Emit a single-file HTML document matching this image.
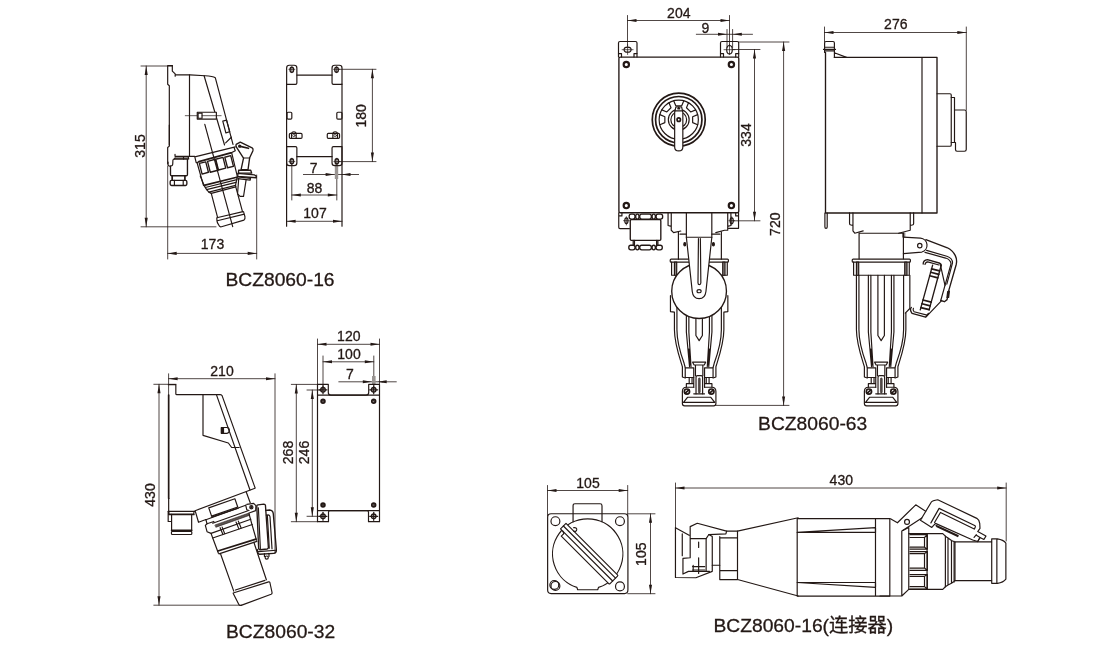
<!DOCTYPE html>
<html><head><meta charset="utf-8"><title>BCZ8060</title>
<style>
html,body{margin:0;padding:0;background:#fff;}
body{width:1120px;height:660px;overflow:hidden;}
svg{display:block;will-change:transform;transform:translateZ(0)}
svg path,svg circle,svg rect,svg ellipse,svg line{fill:none;stroke:#231815;stroke-width:1.18;vector-effect:non-scaling-stroke;stroke-linejoin:round;stroke-linecap:round}
svg .d{stroke-width:.8}
svg .t{stroke-width:.7}
svg .k{stroke-width:1.7}
svg .kk{stroke-width:2.2}
svg .m{stroke-width:1.35}
svg .g{fill:#8a8481}
svg .g2{fill:#5a5350;stroke-width:.6}
svg .ar{fill:#231815;stroke:none}
svg .f{fill:#231815}
svg .w{fill:#fff}
svg text{font-family:"Liberation Sans","Noto Sans CJK SC",sans-serif;fill:#231815;stroke:#231815;stroke-width:.3px}
</style></head><body>
<svg width="1120" height="660" viewBox="0 0 1120 660">
<g id="d1"><path d="M141 66 L172.3 66" class="d"/>
<path d="M141 226.8 L216 226.8" class="d"/>
<path d="M146.2 66 L146.2 226.8" class="d"/><path class="ar" d="M146.2 66 L147.75 75 L144.65 75 Z"/><path class="ar" d="M146.2 226.8 L144.65 217.8 L147.75 217.8 Z"/><text x="144.7" y="146" font-size="14" text-anchor="middle" transform="rotate(-90 144.7 146)">315</text>
<path d="M167.7 166 L167.7 259" class="d"/>
<path d="M256.7 175 L256.7 259" class="d"/>
<path d="M167.7 253.4 L256.7 253.4" class="d"/><path class="ar" d="M167.7 253.4 L176.7 251.85 L176.7 254.95 Z"/><path class="ar" d="M256.7 253.4 L247.7 254.95 L247.7 251.85 Z"/><text x="212.5" y="249" font-size="14" text-anchor="middle">173</text>
<text x="280" y="286" font-size="19.25" text-anchor="middle">BCZ8060-16</text>
<path d="M338 69.3 L376 69.3" class="d"/>
<path d="M338 161.6 L376 161.6" class="d"/>
<path d="M372.4 69.3 L372.4 161.6" class="d"/><path class="ar" d="M372.4 69.3 L373.95 78.3 L370.85 78.3 Z"/><path class="ar" d="M372.4 161.6 L370.85 152.6 L373.95 152.6 Z"/><text x="365.9" y="115.8" font-size="14" text-anchor="middle" transform="rotate(-90 365.9 115.8)">180</text>
<path d="M303.4 174.5 L358.6 174.5" class="d"/>
<path class="ar" d="M334.6 174.5 L325.6 176.05 L325.6 172.95 Z"/>
<path class="ar" d="M341.5 174.5 L350.5 172.95 L350.5 176.05 Z"/>
<text x="313.6" y="172.8" font-size="14" text-anchor="middle">7</text>
<path d="M291.8 163 L291.8 200" class="d"/>
<path d="M336.8 163 L336.8 200" class="d"/>
<path d="M291.8 195 L336.8 195" class="d"/><path class="ar" d="M291.8 195 L300.8 193.45 L300.8 196.55 Z"/><path class="ar" d="M336.8 195 L327.8 196.55 L327.8 193.45 Z"/><text x="314.6" y="192.5" font-size="14" text-anchor="middle">88</text>
<path d="M286.6 84 L286.6 226.2"/>
<path d="M342 84 L342 226.2"/>
<path d="M286.6 221.3 L342 221.3" class="d"/><path class="ar" d="M286.6 221.3 L295.6 219.75 L295.6 222.85 Z"/><path class="ar" d="M342 221.3 L333 222.85 L333 219.75 Z"/><text x="315" y="218.1" font-size="14" text-anchor="middle">107</text>
<rect x="334.8" y="163" width="3.4" height="16" style="fill:#9a9592;stroke:none"/>
<g transform="translate(270 55) scale(0.136364)"><path d="M122 215 V95 Q122 75 142 75 H177 Q197 75 197 95 V205 Q197 215 187 215 H122"/><path d="M528 215 V95 Q528 75 508 75 H475 Q455 75 455 95 V205 Q455 215 465 215 H528"/><path d="M197 147 L455 147"/><ellipse cx="160" cy="108" rx="13" ry="19" class="m"/><path d="M160 85 L160 130" class="t"/><path d="M138 105 L182 105" class="t"/><ellipse cx="488" cy="108" rx="13" ry="19" class="m"/><path d="M488 85 L488 130" class="t"/><path d="M466 105 L510 105" class="t"/><rect x="125" y="420" width="35" height="50" rx="8"/><rect x="490" y="420" width="38" height="50" rx="8"/><rect x="142" y="575" width="93" height="37" rx="8"/><path d="M158 612 V582 Q158 563 175 563 Q192 563 192 582 V612"/><circle cx="175" cy="590" r="9" class="t"/><rect x="420" y="575" width="90" height="37" rx="8"/><path d="M461 612 V582 Q461 563 478 563 Q495 563 495 582 V612"/><circle cx="478" cy="590" r="9" class="t"/></g>
<g transform="translate(270 120) scale(0.136364)"><path d="M122 195 H187 Q197 195 197 205 V315 Q197 335 177 335 H142 Q122 335 122 315 V195"/><path d="M528 195 H465 Q455 195 455 205 V315 Q455 335 475 335 H508 Q528 335 528 315 V195"/><path d="M197 268 L455 268"/><ellipse cx="160" cy="303" rx="13" ry="19" class="m"/><path d="M160 280 L160 326" class="t"/><path d="M138 305 L182 305" class="t"/><ellipse cx="490" cy="303" rx="13" ry="19" class="m"/><path d="M490 280 L490 326" class="t"/><path d="M468 305 L512 305" class="t"/></g>
<g transform="translate(155 55) scale(0.136364)"><path d="M127 78 H93 V215 L105 225 V660"/><path d="M127 78 V118 L148 138 V156 M150 146 H257 L367 152 Q425 156 442 166 L572 655"/><path d="M253 146 L253 744"/><path d="M360 152 L510 660"/><path d="M222 445 L485 445" class="t"/><rect x="310" y="420" width="140" height="50" class="w"/><rect x="316" y="426" width="29" height="38"/><path d="M345 445 L450 445" class="t"/><path d="M497 485 L525 478 L548 562 L520 572 Z"/><path d="M518 645 L560 603"/></g>
<g transform="translate(155 125) scale(0.136364)"><path d="M105 0 V155 L93 165 V285"/></g>
<g transform="translate(162 150) scale(0.060606)"><path d="M100 200 V240 Q102 268 132 265 L162 257 Q176 252 177 236 L180 170 Q182 150 205 146 L215 132"/><path d="M215 70 V105 H540 M215 133 H440 M355 105 V150 M432 105 L440 150"/><path d="M140 272 V405 Q140 425 160 425 H400 Q420 425 420 405 V150 M205 150 H420" class="m"/><path d="M168 428 V497 M378 428 V497" class="k"/><rect x="135" y="500" width="275" height="85" rx="22" class="m"/><path d="M205 500 V585 M350 500 V585"/></g>
<g transform="translate(188 140) scale(0.090909)"><path d="M75 185 L520 75 M75 185 L90 250 L120 240 M505 80 L520 118 L470 142"/><path d="M120 238 L470 142" class="k"/><path d="M125 258 L195 240 L225 355 L155 375 Z" class="m"/><path d="M215 235 L300 212 L330 333 L245 355 Z" class="m"/><path d="M305 212 L385 192 L415 310 L335 330 Z" class="m"/><path d="M405 190 L470 172 L500 290 L435 305 Z" class="m"/><path d="M100 250 L170 500 M480 140 L545 410"/></g>
<g transform="translate(196 176) scale(0.084846)"><path d="M95 110 L480 15" class="k"/><path d="M110 135 L482 43 M125 160 L472 75 M152 190 L466 110"/><path d="M50 0 L95 110 L125 160 L152 190 L180 205 M480 15 L482 43 L472 75 L466 110 L470 125"/><path d="M180 205 L255 490 M468 125 L548 420 M180 205 L468 128"/><path d="M245 492 L553 420 Q560 418 562 426 L577 480 Q582 505 565 520 L300 598 Q282 603 275 590 L252 550 Q245 530 245 492 Z M250 527 L570 450"/></g>
<path d="M204.8 124.3 L232.7 226.7"/>
<g transform="translate(228 138) scale(0.081733)"><path d="M100 78 L150 50 L295 120 Q312 132 305 155 L265 242 L245 388 H160 L190 245 L105 115 Q92 95 100 78 Z" class="m"/><circle cx="143" cy="100" r="13" class="f"/><path d="M150 102 L250 126" class="k"/><path d="M190 245 H265"/><path d="M130 395 H278 L290 430 H128 Z" class="w m"/><path d="M120 432 L325 452 L346 466 V486 L120 470 Z" class="w m"/><path d="M122 476 L275 494 L270 516 L120 497" class="m"/><path d="M131 498 L117 683 L148 714 H190 L221 516"/></g></g>
<g id="d2"><path d="M168.6 373.8 L168.6 396" class="d"/>
<path d="M275 373.8 L275 552" class="d"/>
<path d="M168.6 378.7 L275 378.7" class="d"/><path class="ar" d="M168.6 378.7 L177.6 377.15 L177.6 380.25 Z"/><path class="ar" d="M275 378.7 L266 380.25 L266 377.15 Z"/><text x="222" y="375.6" font-size="14" text-anchor="middle">210</text>
<path d="M153.8 384.3 L176 384.3" class="d"/>
<path d="M153.8 605.2 L241.5 605.2" class="d"/>
<path d="M159 384.3 L159 605.2" class="d"/><path class="ar" d="M159 384.3 L160.55 393.3 L157.45 393.3 Z"/><path class="ar" d="M159 605.2 L157.45 596.2 L160.55 596.2 Z"/><text x="154.7" y="495" font-size="14" text-anchor="middle" transform="rotate(-90 154.7 495)">430</text>
<text x="280.6" y="637.5" font-size="19.25" text-anchor="middle">BCZ8060-32</text>
<path d="M317.5 339 L317.5 384.4" class="d"/>
<path d="M379.5 339 L379.5 384.4" class="d"/>
<path d="M317.5 344.3 L379.5 344.3" class="d"/><path class="ar" d="M317.5 344.3 L326.5 342.75 L326.5 345.85 Z"/><path class="ar" d="M379.5 344.3 L370.5 345.85 L370.5 342.75 Z"/><text x="348.8" y="341.1" font-size="14" text-anchor="middle">120</text>
<path d="M323 356 L323 389" class="d"/>
<path d="M373.8 356 L373.8 389" class="d"/>
<path d="M323 361.8 L373.8 361.8" class="d"/><path class="ar" d="M323 361.8 L332 360.25 L332 363.35 Z"/><path class="ar" d="M373.8 361.8 L364.8 363.35 L364.8 360.25 Z"/><text x="349" y="358.8" font-size="14" text-anchor="middle">100</text>
<path d="M338.8 381.8 L396.3 381.8" class="d"/>
<path class="ar" d="M371.8 381.8 L362.8 383.35 L362.8 380.25 Z"/>
<path class="ar" d="M377.7 381.8 L386.7 380.25 L386.7 383.35 Z"/>
<text x="350" y="379.4" font-size="14" text-anchor="middle">7</text>
<rect x="372" y="376" width="3.6" height="9" style="fill:#9a9592;stroke:none"/>
<path d="M291.3 384.4 L317.5 384.4" class="d"/>
<path d="M291.3 521.7 L317.5 521.7" class="d"/>
<path d="M296.3 384.4 L296.3 521.7" class="d"/><path class="ar" d="M296.3 384.4 L297.85 393.4 L294.75 393.4 Z"/><path class="ar" d="M296.3 521.7 L294.75 512.7 L297.85 512.7 Z"/><text x="292.5" y="452.5" font-size="14" text-anchor="middle" transform="rotate(-90 292.5 452.5)">268</text>
<path d="M307 390 L323 390" class="d"/>
<path d="M307 516.3 L323 516.3" class="d"/>
<path d="M312.3 390 L312.3 516.3" class="d"/><path class="ar" d="M312.3 390 L313.85 399 L310.75 399 Z"/><path class="ar" d="M312.3 516.3 L310.75 507.3 L313.85 507.3 Z"/><text x="308.8" y="452.5" font-size="14" text-anchor="middle" transform="rotate(-90 308.8 452.5)">246</text>
<path d="M328.3 384.4 H317.5 V521.7 H328.5 V512 Q328.5 510.6 330 510.6 H367 Q368.5 510.6 368.5 512 V521.7 H379.5 V384.4 H368.7 V392.5 Q368.7 395.2 366 395.2 H331 Q328.3 395.2 328.3 392.5 Z"/>
<path d="M317.5 395.2 L379.5 395.2"/>
<path d="M317.5 510.6 L379.5 510.6"/>
<circle cx="323" cy="389.8" r="2.3" class="m"/>
<path d="M323 385.8 L323 393.8"/>
<path d="M319 389.8 L327 389.8"/>
<circle cx="323" cy="516.3" r="2.3" class="m"/>
<path d="M323 512.3 L323 520.3"/>
<path d="M319 516.3 L327 516.3"/>
<circle cx="323" cy="401.3" r="1.9" class="k"/>
<circle cx="323" cy="401.3" r="0.4" class="k"/>
<circle cx="323" cy="505" r="1.9" class="k"/>
<circle cx="323" cy="505" r="0.4" class="k"/>
<circle cx="373.7" cy="389.8" r="2.3" class="m"/>
<path d="M373.7 385.8 L373.7 393.8"/>
<path d="M369.7 389.8 L377.7 389.8"/>
<circle cx="373.7" cy="516.3" r="2.3" class="m"/>
<path d="M373.7 512.3 L373.7 520.3"/>
<path d="M369.7 516.3 L377.7 516.3"/>
<circle cx="373.7" cy="401.3" r="1.9" class="k"/>
<circle cx="373.7" cy="401.3" r="0.4" class="k"/>
<circle cx="373.7" cy="505" r="1.9" class="k"/>
<circle cx="373.7" cy="505" r="0.4" class="k"/>
<g transform="translate(150 375) scale(0.166667)"><path d="M110 58 H155 V112 Q155 118 161 118 H422 Q430 118 433 125 L630 676"/><path d="M112 120 V740" class="k"/><path d="M112 740 V815"/><path d="M318 120 V362 L470 408 L490 435 H535"/><path d="M400 122 L600 690"/><path d="M428 315 H462 Q476 316 476 332 Q476 349 462 350 H428 Z"/><path d="M429 316 H441 V349 H429 Z" class="f"/></g>
<g transform="translate(190 480) scale(0.113636)"><path d="M572 72 L45 270 L75 372 L140 348"/><path d="M495 105 L530 200"/><path d="M165 245 L395 165 L420 238 L190 318 Z"/><path d="M188 327 L425 247"/><path d="M140 348 L150 385 L135 400 L150 455 L185 470 L200 510 L250 645"/><path d="M140 350 L490 222"/><path d="M150 385 L210 365 M200 380 L510 270"/><path d="M222 395 L520 290 L526 310 L230 415 Z" class="g2"/><path d="M265 420 L290 480 M283 415 L305 472 M405 370 L430 430 M425 362 L450 422"/><path d="M185 470 L535 345 M200 510 L548 392"/><path d="M520 300 L545 390 L585 530"/><path d="M245 625 L580 520" class="k"/><path d="M255 650 L588 540"/><circle cx="540" cy="240" r="14"/><circle cx="540" cy="240" r="6"/><path d="M490 222 L500 262 L520 268 M500 215 L560 205 L580 225 L578 270 L520 290"/></g>
<g transform="translate(240 495) scale(0.090909)"><path d="M185 125 Q183 110 198 108 L262 100 Q278 100 280 115 L312 575 Q313 592 298 594 L222 602 Q207 603 205 588 Z" class="m"/><path d="M202 140 L224 588"/><path d="M283 170 L325 165 Q362 168 366 205 L400 600 Q402 640 372 642 L215 652 Q200 650 196 630 L190 600" class="m"/><path d="M290 222 L312 219 Q328 220 330 240 L352 592 M301 228 L322 585"/><path d="M203 622 L398 608"/></g>
<g transform="translate(190 540) scale(0.113636)"><path d="M270 125 L385 450 M562 20 L672 350"/><path d="M400 440 L660 355"/><path d="M380 466 L692 368 Q700 366 703 374 L722 462 Q724 474 714 478 L450 575 Q436 580 430 568 L384 478 Q380 470 380 466 Z"/><circle cx="675" cy="155" r="14"/><path d="M655 120 V145 M695 118 V145"/></g>
<g transform="translate(150 495) scale(0.075758)"><path d="M240 215 H592"/><path d="M240 215 V350 H272 M250 215 V255 M582 215 L576 255"/><path d="M250 256 H578" class="k"/><path d="M285 256 V465 M550 256 V465"/><path d="M285 466 H550" class="k"/><rect x="283" y="481" width="269" height="40" rx="12"/></g></g>
<g id="d3"><path d="M627.5 15.5 L627.5 46" class="d"/>
<path d="M729.5 15.5 L729.5 46" class="d"/>
<path d="M627.5 20.5 L729.5 20.5" class="d"/><path class="ar" d="M627.5 20.5 L636.5 18.95 L636.5 22.05 Z"/><path class="ar" d="M729.5 20.5 L720.5 22.05 L720.5 18.95 Z"/><text x="678.8" y="17.6" font-size="14" text-anchor="middle">204</text>
<path d="M696.3 34.3 L752.5 34.3" class="d"/>
<path class="ar" d="M727 34.3 L718 35.85 L718 32.75 Z"/>
<path class="ar" d="M732.8 34.3 L741.8 32.75 L741.8 35.85 Z"/>
<path d="M727 29.5 L727 47.5" class="d"/>
<path d="M732.6 29.5 L732.6 47.5" class="d"/>
<text x="705.5" y="32.6" font-size="14" text-anchor="middle">9</text>
<path d="M733 49.5 L760 49.5" class="d"/>
<path d="M733 220.8 L760 220.8" class="d"/>
<path d="M754.5 49.5 L754.5 220.8" class="d"/><path class="ar" d="M754.5 49.5 L756.05 58.5 L752.95 58.5 Z"/><path class="ar" d="M754.5 220.8 L752.95 211.8 L756.05 211.8 Z"/><text x="751" y="135" font-size="14" text-anchor="middle" transform="rotate(-90 751 135)">334</text>
<path d="M738.8 42 L789 42" class="d"/>
<path d="M716 405.4 L789 405.4" class="d"/>
<path d="M783.6 42 L783.6 405.4" class="d"/><path class="ar" d="M783.6 42 L785.15 51 L782.05 51 Z"/><path class="ar" d="M783.6 405.4 L782.05 396.4 L785.15 396.4 Z"/><text x="780" y="224.2" font-size="14" text-anchor="middle" transform="rotate(-90 780 224.2)">720</text>
<text x="812.7" y="429.8" font-size="19.25" text-anchor="middle">BCZ8060-63</text>
<rect x="618.9" y="57.1" width="119.9" height="155.6" rx="1.5" class="m"/>
<circle cx="626.3" cy="64.5" r="2.65" class="kk"/>
<circle cx="626.3" cy="205.6" r="2.65" class="kk"/>
<circle cx="731.4" cy="64.5" r="2.65" class="kk"/>
<circle cx="731.4" cy="205.6" r="2.65" class="kk"/>
<path d="M618.5 57 V43 Q618.5 41.5 620.0 41.5 H635.5 Q637 41.5 637 43 V57"/><path d="M618.5 53.6 H621.5 V57 M637 53.6 H634 V57"/><ellipse cx="627.6" cy="49.7" rx="3.5" ry="2.5"/><path d="M622.1 49.7 L633.1 49.7" class="t"/><path d="M627.6 44.5 L627.6 54.5" class="t"/>
<path d="M720.5 57 V43 Q720.5 41.5 722.0 41.5 H737.2 Q738.7 41.5 738.7 43 V57"/><path d="M720.5 53.6 H723.5 V57 M738.7 53.6 H735.7 V57"/><ellipse cx="729.5" cy="49.7" rx="2.8" ry="4.2"/><path d="M724 49.7 L735 49.7" class="t"/><path d="M729.5 44.5 L729.5 54.5" class="t"/>
<g transform="translate(645 85) scale(0.113636)"><circle cx="297" cy="305" r="233" class="k"/><circle cx="297" cy="305" r="204" class="k"/><circle cx="297" cy="305" r="172.5"/><circle cx="297" cy="305" r="91.5"/><circle cx="297" cy="305" r="69.5"/><g transform="translate(297 305) rotate(180)"><path d="M166.139 -44.5169 L122.268 -25.989 L122.268 25.989 L166.139 44.5169"/></g><g transform="translate(297 305) rotate(225)"><path d="M166.139 -44.5169 L122.268 -25.989 L122.268 25.989 L166.139 44.5169"/></g><g transform="translate(297 305) rotate(270)"><path d="M166.139 -44.5169 L122.268 -25.989 L122.268 25.989 L166.139 44.5169"/></g><g transform="translate(297 305) rotate(315)"><path d="M166.139 -44.5169 L122.268 -25.989 L122.268 25.989 L166.139 44.5169"/></g><g transform="translate(297 305) rotate(0)"><path d="M166.139 -44.5169 L122.268 -25.989 L122.268 25.989 L166.139 44.5169"/></g><path d="M261 240 L272 192 H322 L333 240 V545 Q333 580 297 580 Q261 580 261 545 Z" class="w"/><path d="M261 228 H333"/><circle cx="297" cy="305" r="15" class="k"/><path d="M288 210 L297 196 L306 210 Z" class="f"/></g>
<g transform="translate(615 208) scale(0.072727)"><rect x="195" y="84" width="80" height="68" rx="28" class="m"/><rect x="285" y="84" width="45" height="68" rx="28" class="m"/><rect x="340" y="84" width="160" height="68" rx="28" class="m"/><rect x="510" y="84" width="45" height="68" rx="28" class="m"/><rect x="565" y="84" width="90" height="68" rx="28" class="m"/><rect x="210" y="160" width="420" height="285" rx="14" class="m"/><path d="M250 445 V512 M590 445 V512 M268 445 V512 M572 445 V512"/><rect x="190" y="512" width="85" height="63" rx="28" class="m"/><rect x="285" y="512" width="45" height="63" rx="28" class="m"/><rect x="340" y="512" width="160" height="63" rx="28" class="m"/><rect x="510" y="512" width="45" height="63" rx="28" class="m"/><rect x="565" y="512" width="85" height="63" rx="28" class="m"/></g>
<g transform="translate(650 315) scale(0.113636)"><rect x="178" y="-491" width="512" height="25" rx="8"/><path d="M190 -466 V-350 H680 V-466"/><path d="M215 -466 V-350 H235 V-466 Z M640 -466 V-350 H660 V-466 Z" class="g"/><path d="M180 -170 V-30 L215 -25 V130 C215 250 262 380 285 455 V545 L310 555 M237 -350 V130 C237 250 280 370 300 425 L310 462"/><path d="M685 -170 V-30 L650 -25 V130 C650 250 603 380 580 455 V545 L555 555 M628 -350 V130 C628 250 585 370 565 425 L555 462"/><path d="M320 -350 V150 L348 455 M342 -350 V150 L361 455 M342 300 L352 440"/><path d="M545 -350 V150 L517 455 M523 -350 V150 L504 455 M523 300 L513 440"/><path d="M404 -350 V180 L432.5 226 L461 180 V-350"/><path d="M375 415 H490 M375 415 L388 440 H477 L490 415 M400 440 V535 M465 440 V535"/><rect x="310" y="465" width="75" height="85"/><rect x="480" y="465" width="75" height="85"/><path d="M345 555 V604 M370 555 V604 M495 555 V604 M520 555 V604 M320 604 H385 M480 604 H545 M320 604 V636 M545 604 V636 M385 550 V636 M480 550 V636"/><path d="M405 694 V549 Q405 534 418 534 H450 Q463 534 463 549 V694"/><path d="M426 562 Q426 554 434 554 Q442 554 442 562 V678 Q442 686 434 686 Q426 686 426 678 Z" class="g2"/><path d="M385 636 H320 Q285 636 285 674 V779 Q285 799 305 799 H560 Q580 799 580 779 V674 Q580 636 545 636 H480"/><circle cx="325" cy="674" r="23" class="k"/><circle cx="540" cy="674" r="23" class="k"/><path d="M308 689 L342 659 M523 689 L557 659" class="k"/><path d="M330 724 H535 L570 769 H295 Z M385 694 H480"/></g>
<g transform="translate(610 200) scale(0.159091)"><path d="M55 80 V172 Q55 180 63 180 H122 M55 100 H75 V82"/><ellipse cx="103" cy="130" rx="10" ry="18"/><path d="M85 130 L121 130" class="t"/><path d="M103 105 L103 157" class="t"/><path d="M808 80 V178 H745 M808 100 H790 V82"/><ellipse cx="765" cy="130" rx="10" ry="18"/><path d="M747 130 L783 130" class="t"/><path d="M765 105 L765 157" class="t"/><path d="M365 82 V160 L385 166 V190 L400 205 L445 195 M385 82 V166 M480 82 V234 M640 82 V234 M740 82 V166 M760 82 V160 L740 166 V190 L720 190 L665 205"/><path d="M430 200 V372 M700 200 V372 M440 215 H480 M640 215 H690"/><circle cx="560" cy="573" r="172" class="w m"/><path d="M480 234 H640 L603 575 Q598 620 560 620 Q522 620 517 575 Z" class="w"/><path d="M556 242 L553 520 Q553 532 562 532 Q571 532 571 520 L568 242"/><ellipse cx="560" cy="573" rx="13" ry="10"/><ellipse cx="470" cy="278" rx="6" ry="11" class="f"/><ellipse cx="650" cy="278" rx="6" ry="11" class="f"/></g>
<path d="M824.5 27 L824.5 42" class="d"/>
<path d="M966.3 27 L966.3 110" class="d"/>
<path d="M824.5 32.5 L966.3 32.5" class="d"/><path class="ar" d="M824.5 32.5 L833.5 30.95 L833.5 34.05 Z"/><path class="ar" d="M966.3 32.5 L957.3 34.05 L957.3 30.95 Z"/><text x="895.8" y="28.6" font-size="14" text-anchor="middle">276</text>
<path d="M834.4 57.4 H937 V213 H825.5 V52.4" class="m"/>
<path d="M922 57.5 L922 213"/>
<path d="M824.9 213 V227 Q824.9 228.4 826 228.4 Q827.2 228.4 827.2 227 V213"/>
<g transform="translate(800 0) scale(0.250000)"><path d="M98.4 210 V172 Q98.4 166 104 166 H132 Q137.6 166 137.6 172 V229.6 M137.6 211 L186 229.6 M98.4 189 H137.6 M94 197.6 H142 M98.4 203.6 H137.6"/><path d="M548 375 H600 Q605 375 605 380 V580 Q605 585 600 585 H548"/><path d="M605 390 H618 V570 H605"/><path d="M618 440 H658 Q665 440 665 447 V598 Q665 605 658 605 H628 Q622 605 622 598 V570 H618"/></g>
<g transform="translate(840 205) scale(0.136364)"><path d="M70 58 V135 Q70 145 80 147 L95 150 M95 58 V190 L108 207 L170 190 M540 58 V135 Q540 145 530 147 L515 150 M515 58 V185 L430 207"/><path d="M140 205 V395 M465 205 V395 M140 207 H465"/><path d="M460 207 V235 M475 205 V235" class="t"/><path d="M465 235 L590 243 A52 52 0 0 1 600 345 L465 357"/><circle cx="585" cy="298" r="16"/></g>
<g transform="translate(905 232) scale(0.121212)"><path d="M172 63 L350 130 Q395 152 415 195 Q432 230 422 270 L362 480 L347 558 L325 575 L295 565" class="m"/><path d="M165 168 L335 215 Q375 228 380 262 L330 440 L295 565"/><path d="M178 152 L345 200 Q392 215 392 255 L345 430"/><path d="M290 262 L330 440"/><path d="M150 265 Q150 232 185 228 L288 258 Q302 264 300 280" class="m"/><path d="M165 268 Q168 248 188 246 L280 272"/><path d="M228 273 L126 642 M296 285 L199 642" class="m"/><path d="M219 304 L286 321 M212 332 L279 349 M204 361 L271 378 M148 561 L216 578 M140 592 L208 609 M131 624 L199 641" class="k"/><path d="M176 698 L300 568"/><path d="M352 492 L366 488 L360 540 L346 540 Z" class="f"/></g>
<g transform="translate(895 230) scale(0.136286)"><path d="M120 568 Q105 585 125 612 L225 640 L245 612" class="m"/><path d="M135 575 Q128 590 140 600 L235 625"/></g>
<g transform="translate(832 315) scale(0.113636)"><rect x="178" y="-491" width="512" height="25" rx="8"/><path d="M190 -466 V-350 H680 V-466"/><path d="M215 -466 V-350 H235 V-466 Z M640 -466 V-350 H660 V-466 Z" class="g"/><path d="M215 -350 V130 C215 250 262 380 285 455 V545 L310 555 M237 -350 V130 C237 250 280 370 300 425 L310 462"/><path d="M650 -17 V130 C650 250 603 380 580 455 V545 L555 555 M630 -350 V130 C630 250 585 370 565 425 L555 462"/><path d="M685 -350 V-57 L645 -17"/><path d="M320 -350 V150 L348 455 M342 -350 V150 L361 455 M342 300 L352 440"/><path d="M545 -350 V150 L517 455 M523 -350 V150 L504 455 M523 300 L513 440"/><path d="M404 -350 V180 L432.5 226 L461 180 V-350"/><path d="M375 415 H490 M375 415 L388 440 H477 L490 415 M400 440 V535 M465 440 V535"/><rect x="310" y="465" width="75" height="85"/><rect x="480" y="465" width="75" height="85"/><path d="M345 555 V604 M370 555 V604 M495 555 V604 M520 555 V604 M320 604 H385 M480 604 H545 M320 604 V636 M545 604 V636 M385 550 V636 M480 550 V636"/><path d="M405 694 V549 Q405 534 418 534 H450 Q463 534 463 549 V694"/><path d="M426 562 Q426 554 434 554 Q442 554 442 562 V678 Q442 686 434 686 Q426 686 426 678 Z" class="g2"/><path d="M385 636 H320 Q285 636 285 674 V779 Q285 799 305 799 H560 Q580 799 580 779 V674 Q580 636 545 636 H480"/><circle cx="325" cy="674" r="23" class="k"/><circle cx="540" cy="674" r="23" class="k"/><path d="M308 689 L342 659 M523 689 L557 659" class="k"/><path d="M330 724 H535 L570 769 H295 Z M385 694 H480"/></g></g>
<g id="d4"><path d="M547.5 485.5 L547.5 516" class="d"/>
<path d="M627.7 485.5 L627.7 516" class="d"/>
<path d="M547.5 490.5 L627.7 490.5" class="d"/><path class="ar" d="M547.5 490.5 L556.5 488.95 L556.5 492.05 Z"/><path class="ar" d="M627.7 490.5 L618.7 492.05 L618.7 488.95 Z"/><text x="588" y="487.6" font-size="14" text-anchor="middle">105</text>
<path d="M627.7 513.8 L655 513.8" class="d"/>
<path d="M627.7 593.7 L655 593.7" class="d"/>
<path d="M650.5 513.8 L650.5 593.7" class="d"/><path class="ar" d="M650.5 513.8 L652.05 522.8 L648.95 522.8 Z"/><path class="ar" d="M650.5 593.7 L648.95 584.7 L652.05 584.7 Z"/><text x="646.5" y="554.2" font-size="14" text-anchor="middle" transform="rotate(-90 646.5 554.2)">105</text>
<g transform="translate(540 495) scale(0.158983)"><rect x="48" y="118" width="505" height="502" rx="22"/><path d="M208 168 V67 Q208 55 220 55 H378 Q390 55 390 67 V168"/><path d="M232 581 A221 221 0 1 1 368 581 L363 596 H237 Z"/><circle cx="97" cy="165" r="28"/><circle cx="503" cy="165" r="28"/><circle cx="503" cy="575" r="28"/><circle cx="97" cy="572" r="28"/><circle cx="90" cy="566" r="28"/><g transform="translate(300 370) rotate(45)"><path d="M-232 -39 H226 Q232 -39 232 -33 V33 Q232 39 226 39 H-196 V16 L-212 10 H-232 Z" class="w"/><path d="M-232 -15.7 L232 -15.7"/><path d="M-212 10 L232 10"/></g><path d="M212 205 Q232 203 231 218 Q229 232 212 228"/></g></g>
<g id="d5"><path d="M675.5 483 L675.5 528" class="d"/>
<path d="M1006.2 483 L1006.2 541" class="d"/>
<path d="M675.5 488 L1006.2 488" class="d"/><path class="ar" d="M675.5 488 L684.5 486.45 L684.5 489.55 Z"/><path class="ar" d="M1006.2 488 L997.2 489.55 L997.2 486.45 Z"/><text x="841.3" y="485.1" font-size="14" text-anchor="middle">430</text>
<text x="803.3" y="631.5" font-size="19.25" text-anchor="middle">BCZ8060-16(连接器)</text>
<g transform="translate(670 510) scale(0.136364)"><path d="M40 130 V495 L190 497 L310 450 V195 L285 180"/><path d="M40 130 L140 185 M148 350 V122 L200 97 L415 155 L410 175 L285 180 L265 210 H148 M148 350 L95 355 V470 L135 450 H290"/><path d="M90 175 V335 M265 210 V445"/><path d="M210 235 V275 M210 350 V465 M165 415 H255 M165 440 H255 M170 405 V445"/><path d="M310 405 H365"/><path d="M365 195 V510 H495 V155 H415 M365 205 H495 M365 445 H495"/><path d="M495 155 L940 57 M495 510 L940 631"/></g>
<g transform="translate(780 495) scale(0.159152)"><path d="M108 148 V635 H690 V148 Z M600 148 V635"/><path d="M108 235 H600 V205 Z M108 550 H600 V580 Z"/></g>
<g transform="translate(880 490) scale(0.174347)"><path d="M60 165 L100 188 L205 85 L262 122 M0 608 H125 L165 570 V215 L125 235 V608"/><circle cx="155" cy="183" r="14"/><path d="M130 232 L240 160"/><path d="M165 250 H360 L375 265 V555 L360 570 H165 M270 250 V570"/><path d="M390 275 V545 M410 290 V535 M425 295 V528 M375 265 L390 275 L410 290 L430 298 M375 555 L390 545 L410 535 L430 520"/><path d="M430 298 H640 M430 520 H640 M430 298 V520"/></g>
<g transform="translate(890 515) scale(0.128750)"><path d="M155 152 H290 V265 H155 M155 175 H268 V250 H155 M268 175 L290 152 M268 250 L290 265"/><path d="M155 285 H290 V430 H155 M155 300 H268 V412 H155 M268 300 L290 285 M268 412 L290 430"/><path d="M155 462 H290 V575 H155 M155 476 H268 V556 H155 M268 476 L290 462 M268 556 L290 575"/><path d="M790 185 H835 Q880 192 900 218 V498 Q880 524 835 531 H790 Z M830 186 V530"/></g>
<g transform="translate(905 492) scale(0.090909)"><path d="M170 310 L290 110 Q300 95 360 85 L790 290 Q815 305 822 345 L825 400 L800 435 L890 485 L868 522 L825 500 L800 545 L745 528 L335 345 L295 390 Z"/><path d="M285 340 L375 180 L772 372 Q780 380 762 408 M325 335 L390 225 L762 408"/><path d="M340 365 L585 478 L580 490 L345 380"/><path d="M760 500 L785 470 M800 545 L825 500 L790 478"/></g></g>
</svg>
</body></html>
